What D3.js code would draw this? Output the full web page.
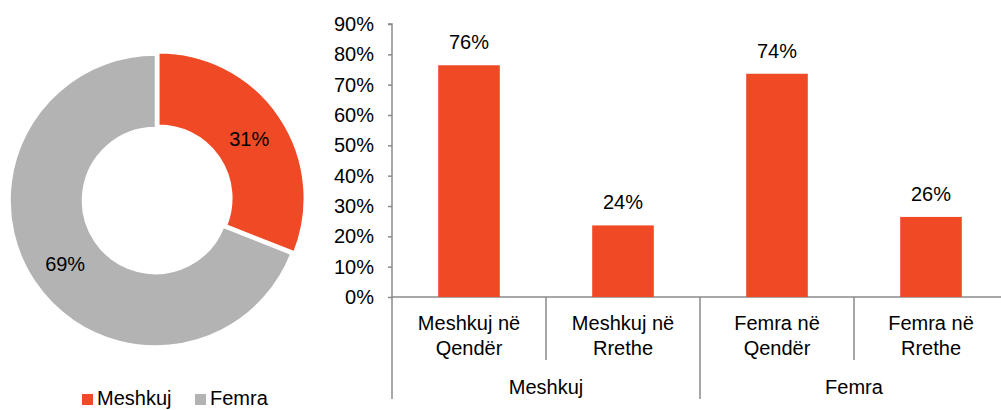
<!DOCTYPE html>
<html>
<head>
<meta charset="utf-8">
<script src="https://cdn.jsdelivr.net/npm/d3@7"></script>
<style>
  body { margin: 0; background: #fff; }
  text { font-family: "Liberation Sans", Arial, sans-serif; fill: #000; }
</style>
</head>
<body>
<div class="graphic"></div>
<script>
// donut data
let pieLabels = ["Meshkuj", "Femra"];
let pieValues = [0.31, 0.69];
let pieColors = ["#ef4a25", "#b3b3b3"];

// bar data
let barCats = ["Meshkuj në|Qendër", "Meshkuj në|Rrethe", "Femra në|Qendër", "Femra në|Rrethe"];
let barValues = [0.764, 0.236, 0.736, 0.264];
let barGroups = ["Meshkuj", "Femra"];
let yTicks = [0, 0.1, 0.2, 0.3, 0.4, 0.5, 0.6, 0.7, 0.8, 0.9];

let ORANGE = "#ef4a25";
let AXIS = "#8a8a8a";
let FONT = 20;

let svg = d3.select(".graphic")
            .append("svg")
            .attr("width", 1001)
            .attr("height", 410);

// ---- donut ----
let cx = 155.5, cy = 200.5;
let rOut = 145.5, rIn = 73;
let EXPLODE = 4;

let pie = d3.pie().sort(null).value(d => d);
let arcs = pie(pieValues);
let arc = d3.arc().innerRadius(rIn).outerRadius(rOut);
let labelArc = d3.arc().innerRadius((rIn + rOut) / 2).outerRadius((rIn + rOut) / 2);

let donut = svg.append("g").attr("transform", `translate(${cx},${cy})`);

let slice = donut.selectAll("g.slice")
    .data(arcs)
    .enter()
    .append("g")
    .attr("class", "slice")
    .attr("transform", (d, i) => {
        if (i !== 0) return null;
        let a = (d.startAngle + d.endAngle) / 2;
        return `translate(${Math.sin(a) * EXPLODE},${-Math.cos(a) * EXPLODE})`;
    });

slice.append("path")
    .attr("d", arc)
    .attr("fill", (d, i) => pieColors[i])
    .attr("stroke", "#fff")
    .attr("stroke-width", 1.5);

slice.append("text")
    .attr("transform", d => `translate(${labelArc.centroid(d)})`)
    .attr("dy", "0.45em")
    .attr("text-anchor", "middle")
    .attr("font-size", FONT)
    .text(d => Math.round(d.data * 100) + "%");

// legend
let legend = svg.append("g").attr("transform", "translate(82,394)");
let legX = [0, 113];
pieLabels.forEach((name, i) => {
    let g = legend.append("g").attr("transform", `translate(${legX[i]},0)`);
    g.append("rect").attr("width", 11).attr("height", 11).attr("fill", pieColors[i]);
    g.append("text").attr("x", 15).attr("y", 11).attr("font-size", FONT).text(name);
});

// ---- bar chart ----
let pLeft = 392, pRight = 1008, pTop = 24, pBottom = 297;

let x = d3.scaleBand().domain(barCats).range([pLeft, pRight]).padding(0);
let xg = d3.scaleBand().domain(barGroups).range([pLeft, pRight]).padding(0);
let y = d3.scaleLinear().domain([0, 0.9]).range([pBottom, pTop]);

let yAxis = svg.append("g")
    .attr("transform", `translate(${pLeft},0)`)
    .call(d3.axisLeft(y).tickValues(yTicks).tickFormat(d3.format(".0%")).tickSize(4).tickPadding(14));
yAxis.select(".domain").attr("stroke", AXIS).attr("stroke-width", 1.5)
    .attr("d", `M-4,${pTop}H0V${pBottom + 102}`);
yAxis.selectAll(".tick line").attr("stroke", AXIS).attr("stroke-width", 1.5);
yAxis.selectAll(".tick text")
    .attr("font-size", FONT)
    .attr("font-family", "Liberation Sans, Arial, sans-serif")
    .attr("fill", "#000");

// x axis line
svg.append("line")
    .attr("x1", pLeft).attr("x2", pRight)
    .attr("y1", pBottom).attr("y2", pBottom)
    .attr("stroke", AXIS).attr("stroke-width", 1.5);

// category separators
barCats.slice(1).forEach((c, i) => {
    let isGroup = (i + 1) % 2 === 0;
    svg.append("line")
        .attr("x1", x(c)).attr("x2", x(c))
        .attr("y1", pBottom).attr("y2", isGroup ? pBottom + 102 : pBottom + 63)
        .attr("stroke", AXIS).attr("stroke-width", 1.5);
});

let bw = x.bandwidth() * 0.4;
svg.selectAll("rect.bar")
    .data(barValues)
    .enter()
    .append("rect")
    .attr("class", "bar")
    .attr("x", (d, i) => x(barCats[i]) + (x.bandwidth() - bw) / 2)
    .attr("y", d => y(d))
    .attr("width", bw)
    .attr("height", d => pBottom - y(d))
    .attr("fill", ORANGE);

svg.selectAll("text.val")
    .data(barValues)
    .enter()
    .append("text")
    .attr("class", "val")
    .attr("x", (d, i) => x(barCats[i]) + x.bandwidth() / 2)
    .attr("y", d => y(d) - 16)
    .attr("text-anchor", "middle")
    .attr("font-size", FONT)
    .text(d => Math.round(d * 100) + "%");

// category labels
barCats.forEach(c => {
    let lines = c.split("|");
    let t = svg.append("text")
        .attr("text-anchor", "middle")
        .attr("font-size", FONT);
    lines.forEach((ln, j) => {
        t.append("tspan")
            .attr("x", x(c) + x.bandwidth() / 2)
            .attr("y", 330 + j * 25)
            .text(ln);
    });
});

// group labels
barGroups.forEach(g => {
    svg.append("text")
        .attr("x", xg(g) + xg.bandwidth() / 2)
        .attr("y", 394)
        .attr("text-anchor", "middle")
        .attr("font-size", FONT)
        .text(g);
});
</script>
</body>
</html>
